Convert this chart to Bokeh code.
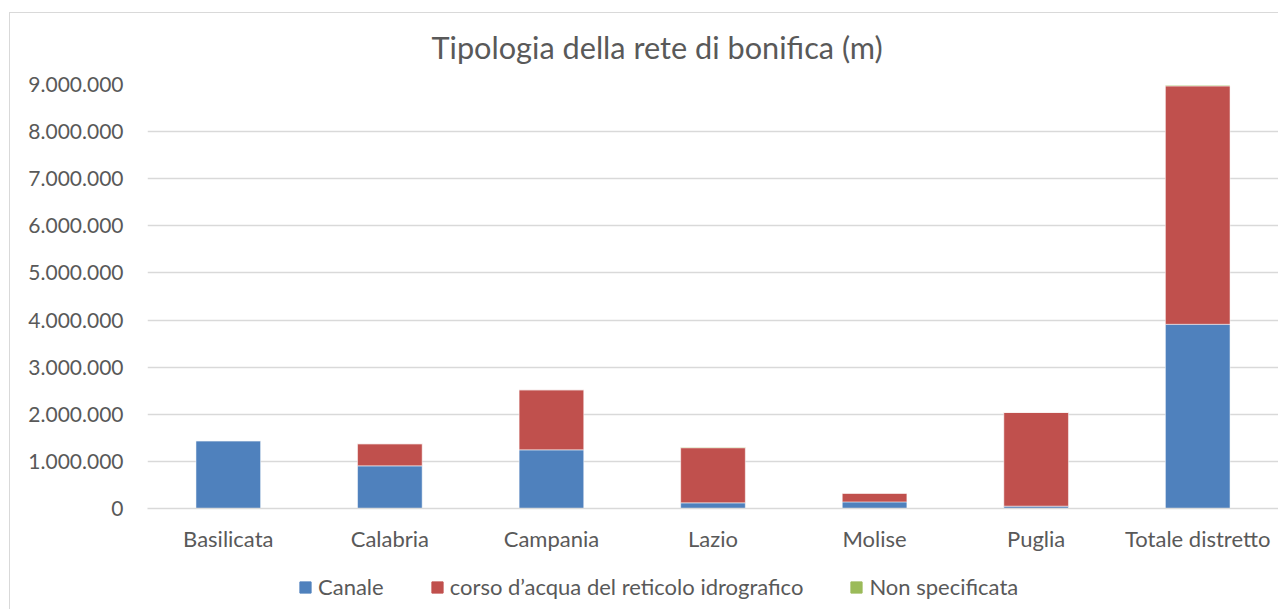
from bokeh.plotting import figure
from bokeh.layouts import column
from bokeh.models import (FactorRange, Range1d, Legend, LegendItem, SingleIntervalTicker,
                          CustomJSTickFormatter)
from bokeh.embed import file_html
from bokeh.resources import INLINE

categories = ["Basilicata", "Calabria", "Campania", "Lazio", "Molise", "Puglia", "Totale distretto"]
canale = [1440000, 905000, 1245000, 120000, 140000, 50000, 3910000]
corso = [0, 470000, 1275000, 1170000, 185000, 1990000, 5060000]
non_spec = [0, 0, 0, 12000, 0, 0, 15000]
series_names = ["Canale", "corso d\u2019acqua del reticolo idrografico", "Non specificata"]
colors = ["#4F81BD", "#C0504D", "#9BBB59"]
title_text = "Tipologia della rete di bonifica (m)"

FONT = "Lato"
TXT = "#595959"
BORDER = "#d9d9d9"

data = dict(cat=categories, canale=canale, corso=corso, non=non_spec)
stack_keys = ["canale", "corso", "non"]

p = figure(x_range=FactorRange(*categories), y_range=Range1d(0, 9000000),
           width=1278, height=554, output_backend="svg", toolbar_location=None,
           min_border_left=147, min_border_right=0, min_border_top=84, min_border_bottom=46,
           title=title_text)
p.border_fill_color = None

p.vbar_stack(stack_keys, x="cat", width=0.4, source=data,
             color=colors, line_color="white", line_width=0.5)

p.title.align = "left"
p.title.offset = 284
p.title.standoff = 38
p.title.text_font = FONT
p.title.text_font_size = "30.7px"
p.title.text_font_style = "normal"
p.title.text_color = TXT

p.xgrid.grid_line_color = None
p.ygrid.grid_line_color = BORDER
p.ygrid.grid_line_width = 1.3
p.outline_line_color = None

p.yaxis.ticker = SingleIntervalTicker(interval=1000000)
p.yaxis.formatter = CustomJSTickFormatter(code=r"return tick.toFixed(0).replace(/\B(?=(\d{3})+(?!\d))/g, '.');")
p.yaxis.axis_line_color = None
p.yaxis.major_tick_line_color = None
p.yaxis.minor_tick_line_color = None
p.yaxis.major_label_standoff = 18
p.yaxis.major_label_text_font = FONT
p.yaxis.major_label_text_font_size = "21px"
p.yaxis.major_label_text_color = TXT

p.xaxis.axis_line_color = BORDER
p.xaxis.axis_line_width = 1.5
p.xaxis.major_tick_line_color = None
p.xaxis.major_label_standoff = 10
p.xaxis.major_label_text_font = FONT
p.xaxis.major_label_text_font_size = "22px"
p.xaxis.major_label_text_color = TXT

# legend strip below the chart (its own canvas so the legend is not clipped)
lf = figure(x_range=FactorRange(*categories), y_range=Range1d(-2, -1),
            width=1278, height=55, output_backend="svg", toolbar_location=None,
            min_border=0, x_axis_location=None, y_axis_location=None)
lf.border_fill_color = None
lf.background_fill_color = None
lf.xgrid.grid_line_color = None
lf.ygrid.grid_line_color = None
lf.outline_line_color = None
lrs = lf.vbar_stack(stack_keys, x="cat", width=0.4, source=data, color=colors)
for r in lrs:
    r.visible = False

legend = Legend(items=[LegendItem(label=n, renderers=[r]) for n, r in zip(series_names, lrs)],
                orientation="horizontal", location=(151, 9), padding=0, margin=0,
                spacing=46, label_standoff=6, glyph_width=14, glyph_height=14,
                label_height=14,
                label_text_font=FONT, label_text_font_size="22px", label_text_color=TXT,
                border_line_color=None, background_fill_alpha=0)
lf.add_layout(legend, "center")

layout = column(p, lf, spacing=0, styles={
    "background": ("linear-gradient(%s,%s) 9px 12px / 1px 100%% no-repeat, "
                   "linear-gradient(%s,%s) 9px 12px / 100%% 1px no-repeat, #ffffff")
                  % (BORDER, BORDER, BORDER, BORDER)})
open("out.html", "w").write(file_html(layout, INLINE))
